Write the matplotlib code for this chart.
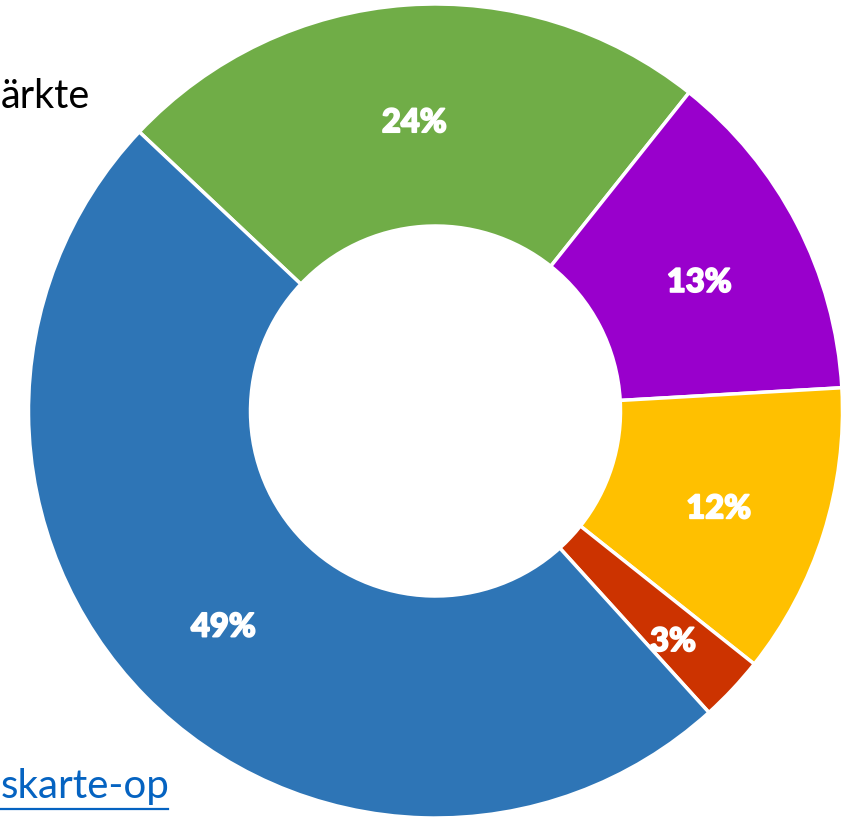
import matplotlib
matplotlib.use("Agg")
import matplotlib.pyplot as plt
import matplotlib.patheffects as pe
import numpy as np

# Data (shares in %, order clockwise from upper-left)
categories = ["Grün", "Lila", "Gelb", "Rot", "Blau"]
shares = [23.7, 13.4, 11.6, 2.6, 48.8]
colors = ["#70AD47", "#9900CC", "#FFC000", "#CC3300", "#2E75B6"]

W, H = 848, 819
cx, cy = 435.5, 411
R_out, R_in = 407, 185

fig = plt.figure(figsize=(W / 100, H / 100), dpi=100)
ax = fig.add_axes([0, 0, 1, 1])

wedges, texts, autotexts = ax.pie(
    shares, colors=colors, startangle=136.7, counterclock=False,
    radius=R_out, autopct="%.0f%%", pctdistance=0.73,
    wedgeprops=dict(width=R_out - R_in, edgecolor="white", linewidth=2.5),
    textprops=dict(color="white", fontsize=23.5, fontweight="black",
                   family=["Lato", "DejaVu Sans"]),
)
ax.set_xlim(-cx, W - cx)
ax.set_ylim(-(H - cy), cy)
ax.set_aspect("equal")
ax.axis("off")

for i, t in enumerate(autotexts):
    w = wedges[i]
    ang = np.deg2rad((w.theta1 + w.theta2) / 2)
    r = 0.80 * R_out if i == 3 else 0.73 * R_out
    t.set_position((r * np.cos(ang), r * np.sin(ang) - 8))
    t.set_path_effects([pe.withStroke(linewidth=1.3, foreground="white")])

fig.text(1 / W, (H - 108) / H, "ärkte", fontsize=28.5, color="black",
         family=["Lato", "DejaVu Sans"], ha="left", va="baseline")
fig.text(1 / W, (H - 798) / H, "skarte-op", fontsize=29, color="#0563C1",
         family=["Lato", "DejaVu Sans"], ha="left", va="baseline")
fig.lines.append(plt.Line2D([0, 168 / W], [(H - 809) / H] * 2, color="#0563C1",
                            linewidth=1.6, transform=fig.transFigure))

fig.savefig("out.png", dpi=100)
